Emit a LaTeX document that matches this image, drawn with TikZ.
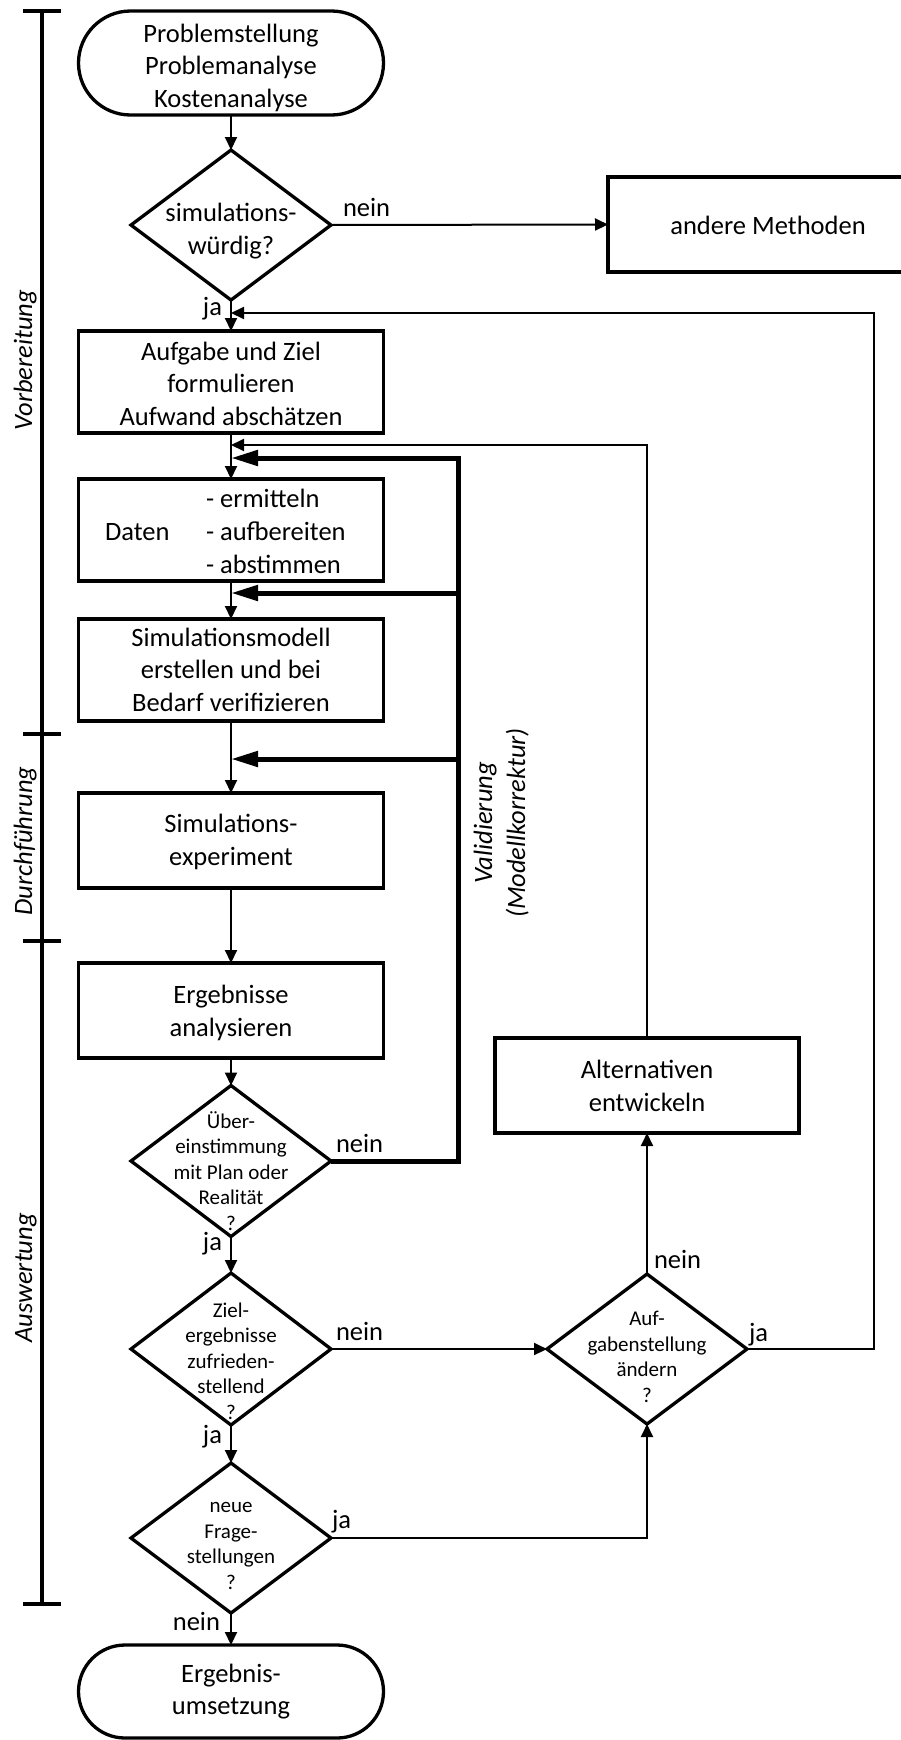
\documentclass[tikz,border=0pt]{standalone}
\usepackage{fontspec}
\setmainfont{Carlito}
\usetikzlibrary{arrows.meta,shapes.geometric,shapes.misc}

% text block set a little lower than the node centre
\newcommand\lowtext[2]{\raisebox{-#1}[\height][\depth]{\begin{tabular}{@{}c@{}}#2\end{tabular}}}

\begin{document}
\begin{tikzpicture}[x=1pt,y=-1pt,
  every node/.style={inner sep=0pt, outer sep=0pt},
  big/.style={font=\fontsize{26.5}{32.5}\selectfont},
  small/.style={font=\fontsize{21}{25.5}\selectfont},
  box/.style={draw, line width=3.3pt, rectangle, minimum width=305pt, align=center, big},
  term/.style={draw, line width=3.3pt, rounded rectangle, minimum width=305pt, align=center, big},
  dec/.style={draw, line width=3.3pt, diamond, minimum width=200pt, minimum height=150pt},
  dtext/.style={align=center, small},
  lab/.style={big},
  phase/.style={font=\fontsize{26.5}{32.5}\selectfont\itshape, rotate=90, anchor=base},
  flow/.style={line width=2pt, line join=miter, -{Triangle[length=13pt,width=12pt]}},
  valid/.style={line width=5pt, line join=miter, -{Triangle[length=27pt,width=15pt]}},
  bar/.style={line width=3.5pt}
]
\useasboundingbox (0,0) rectangle (901,1740);
\clip (0,0) rectangle (901,1740);

% phase bar on the left
\draw[bar] (42,11) -- (42,1604);
\foreach \yy in {11,734,941,1604} \draw[bar] (23,\yy) -- (61,\yy);
\node[phase] (ph1) at (32,360) {Vorbereitung};
\node[phase] (ph2) at (32,841) {Durchführung};
\node[phase] (ph3) at (32,1278) {Auswertung};

% main column
\node[term, minimum height=104pt] (start) at (231,63) {\lowtext{5pt}{Problemstellung\\Problemanalyse\\Kostenanalyse}};
\node[dec] (q1) at (231,225) {};
\node[dtext, big] (q1t) at (231,231) {simulations-\\würdig?};
\node[box, minimum width=320pt, minimum height=95pt] (other) at (768,224.5) {\lowtext{3pt}{andere Methoden}};
\node[box, minimum height=102pt] (task) at (231,382) {\lowtext{4pt}{Aufgabe und Ziel\\formulieren\\Aufwand abschätzen}};
\node[box, minimum height=102pt] (data) at (231,530) {};
\node[lab, anchor=base west] (dataL) at (105,540) {Daten};
\node[lab, anchor=base west] (data1) at (206,507) {- ermitteln};
\node[lab, anchor=base west] (data2) at (206,540) {- aufbereiten};
\node[lab, anchor=base west] (data3) at (206,573) {- abstimmen};
\node[box, minimum height=102pt] (model) at (231,670) {\lowtext{2pt}{Simulationsmodell\\erstellen und bei\\Bedarf verifizieren}};
\node[box, minimum height=95pt] (exp) at (231,840.5) {\lowtext{2pt}{Simulations-\\experiment}};
\node[box, minimum height=95pt] (res) at (231,1010.5) {\lowtext{3pt}{Ergebnisse\\analysieren}};
\node[dec, minimum height=151pt] (q2) at (231,1161) {};
\node[dtext] (q2t) at (231,1171) {Über-\\einstimmung\\mit Plan oder\\Realität\\?};
\node[dec, minimum height=152pt] (q3) at (231,1349) {};
\node[dtext] (q3t) at (231,1361) {Ziel-\\ergebnisse\\zufrieden-\\stellend\\?};
\node[dec] (q4) at (231,1538) {};
\node[dtext] (q4t) at (231,1546) {neue\\Frage-\\stellungen\\?};
\node[term, minimum height=93pt] (stop) at (231,1691.5) {Ergebnis-\\umsetzung};

% right column
\node[box, minimum width=304pt, minimum height=95pt] (alt) at (647,1085.5) {\lowtext{3pt}{Alternativen\\entwickeln}};
\node[dec] (q5) at (647,1349) {};
\node[dtext] (q5t) at (647,1357) {Auf-\\gabenstellung\\ändern\\?};

% junction points
\coordinate (jA) at (231,313);
\coordinate (jB) at (231,445);
\coordinate (jC) at (231,458);
\coordinate (jD) at (231,593);
\coordinate (jE) at (231,759);
\coordinate (rA) at (874,1349);
\coordinate (vT) at (458,458);
\coordinate (vB) at (458,1161);
\coordinate (vD) at (458,593);
\coordinate (vE) at (458,759);

% main flow
\draw[flow] (start.south) -- (q1.north);
\draw[flow] (q1.east) -- (other.west);
\draw[flow] (q1.south) -- (task.north);
\draw[flow] (task.south) -- (data.north);
\draw[flow] (data.south) -- (model.north);
\draw[flow] (model.south) -- (exp.north);
\draw[flow] (exp.south) -- (res.north);
\draw[flow] (res.south) -- (q2.north);
\draw[flow] (q2.south) -- (q3.north);
\draw[flow] (q3.south) -- (q4.north);
\draw[flow] (q4.south) -- (stop.north);
\draw[flow] (q3.east) -- (q5.west);
\draw[flow] (q4.east) -| (q5.south);
\draw[flow] (q5.north) -- (alt.south);
\draw[flow] (q5.east) -- (rA) |- (jA);
\draw[flow] (alt.north) |- (jB);

% validation loop
\draw[valid] (q2.east) -- (vB) -- (vT) -- (jC);
\draw[valid] (vD) -- (jD);
\draw[valid] (vE) -- (jE);
\node[phase] (val1) at (492,823) {Validierung};
\node[phase] (val2) at (525,823) {(Modellkorrektur)};

% branch labels
\node[lab, anchor=base west] (l1) at (343,216) {nein};
\node[lab, anchor=base east] (l2) at (222,315) {ja};
\node[lab, anchor=base west] (l3) at (336,1152) {nein};
\node[lab, anchor=base east] (l4) at (222,1250) {ja};
\node[lab, anchor=base west] (l5) at (336,1340) {nein};
\node[lab, anchor=base east] (l6) at (222,1443) {ja};
\node[lab, anchor=base west] (l7) at (332,1528) {ja};
\node[lab, anchor=base east] (l8) at (220,1630) {nein};
\node[lab, anchor=base west] (l9) at (654,1268) {nein};
\node[lab, anchor=base west] (l10) at (749,1341) {ja};
\end{tikzpicture}
\end{document}
